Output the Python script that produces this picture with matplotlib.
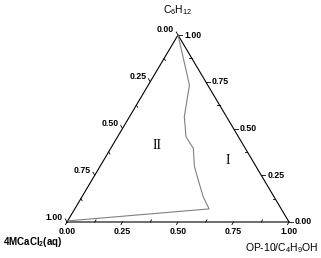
import numpy as np
import matplotlib
matplotlib.use('Agg')
import matplotlib.pyplot as plt

# phase boundary (fractions of right and top vertex)
op10 = [0.0, 0.185, 0.247, 0.308, 0.372, 0.426, 0.492, 0.546, 0.605, 0.0]
c6h12 = [1.0, 0.733, 0.563, 0.456, 0.394, 0.296, 0.207, 0.135, 0.07, 0.006]

ticks = [0.0, 0.25, 0.5, 0.75, 1.0]
minor = [0.125, 0.375, 0.625, 0.875]
tickLabels = ['0.00', '0.25', '0.50', '0.75', '1.00']

W, H = 321, 258
PXX, PXY = 222.0, 187.0  # pixels per data unit

plt.rcParams['font.family'] = ['Liberation Sans', 'DejaVu Sans']
plt.rcParams['mathtext.fontset'] = 'custom'
plt.rcParams['mathtext.rm'] = 'Liberation Sans'
plt.rcParams['mathtext.it'] = 'Liberation Sans:italic'
plt.rcParams['mathtext.bf'] = 'Liberation Sans:bold'

def tern(b, c):
    # b = right vertex fraction, c = top vertex fraction
    b = np.asarray(b, dtype=float)
    c = np.asarray(c, dtype=float)
    return b + 0.5 * c, c

def off(x, y, dx, dy):
    # shift a point by a pixel offset
    return x + dx / PXX, y + dy / PXY

def main():
    fig = plt.figure(figsize=(W / 100.0, H / 100.0), dpi=100)
    ax = fig.add_axes([67.0 / W, (H - 222.0) / H, PXX / W, PXY / H])
    ax.set_xlim(0, 1)
    ax.set_ylim(0, 1)
    ax.axis('off')

    # triangle frame
    fx, fy = tern([0, 1, 0, 0], [0, 0, 1, 0])
    ax.plot(fx, fy, color='black', lw=0.8, clip_on=False)

    kw = dict(fontsize=6.3, fontweight='bold', clip_on=False)
    # bottom axis: right vertex fraction
    for v, lab in zip(ticks, tickLabels):
        x, y = tern(v, 0)
        x2, y2 = off(x, y, -0.51 * 3, -0.86 * 3)
        ax.plot([x, x2], [y, y2], color='black', lw=0.6, clip_on=False)
        tx, ty = off(x, y, 0, -9)
        ax.text(tx, ty, lab, ha='center', va='center', **kw)
    for v in minor:
        x, y = tern(v, 0)
        x2, y2 = off(x, y, 0.51 * 2.5, 0.86 * 2.5)
        ax.plot([x, x2], [y, y2], color='black', lw=0.6, clip_on=False)

    # left axis: left vertex fraction, 0 at top
    for v, lab in zip(ticks, tickLabels):
        x, y = tern(0, 1 - v)
        x2, y2 = off(x, y, -0.51 * 3.5, 0.86 * 3.5)
        ax.plot([x, x2], [y, y2], color='black', lw=0.6, clip_on=False)
        tx, ty = off(x, y, -4, 5)
        ax.text(tx, ty, lab, ha='right', va='center', **kw)
    for v in minor:
        x, y = tern(0, 1 - v)
        x2, y2 = off(x, y, 0.51 * 2.5, -0.86 * 2.5)
        ax.plot([x, x2], [y, y2], color='black', lw=0.6, clip_on=False)

    # right axis: top vertex fraction, 0 at bottom
    for v, lab in zip(ticks, tickLabels):
        x, y = tern(1 - v, v)
        x2, y2 = off(x, y, 4, 0)
        ax.plot([x, x2], [y, y2], color='black', lw=0.6, clip_on=False)
        tx, ty = off(x, y, 6, 0)
        ax.text(tx, ty, lab, ha='left', va='center', **kw)
    for v in minor:
        x, y = tern(1 - v, v)
        x2, y2 = off(x, y, -2.5, 0)
        ax.plot([x, x2], [y, y2], color='black', lw=0.6, clip_on=False)

    # binodal curve
    cx, cy = tern(op10, c6h12)
    ax.plot(cx, cy, color='#808080', lw=0.8, clip_on=False)

    # region labels
    ax.text(*tern(0.2, 0.41), 'II', family='Liberation Serif', fontsize=10,
            ha='center', va='center')
    ax.text(*tern(0.56, 0.33), 'I', family='Liberation Serif', fontsize=10,
            ha='center', va='center')

    # component names
    fig.text(178.0 / W, 1 - 10.0 / H, 'C$_6$H$_{12}$', fontsize=7.5,
             ha='center', va='center')
    fig.text(3.0 / W, 1 - 242.0 / H, r'4MCaCl$_\mathbf{2}$(aq)', fontsize=7,
             fontweight='bold', ha='left', va='center')
    fig.text(318.0 / W, 1 - 248.0 / H, 'OP-10/C$_4$H$_9$OH', fontsize=7.5,
             ha='right', va='center')

    fig.savefig('out.png', dpi=100)

if __name__ == "__main__":
    main()
